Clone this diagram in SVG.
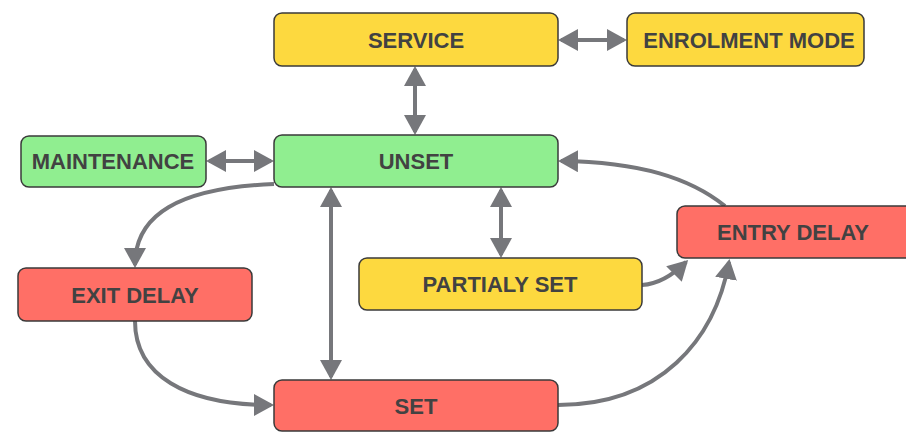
<svg xmlns="http://www.w3.org/2000/svg" width="906" height="432" viewBox="0 0 906 432">
<style>
.n rect{stroke:#3a3a3a;stroke-width:1.5}
.y rect{fill:#fdd93f}
.g rect{fill:#90ee90}
.r rect{fill:#ff6f66}
.n text{font-family:"Liberation Sans",Arial,sans-serif;font-weight:bold;font-size:22px;fill:#424242;text-anchor:middle;dominant-baseline:central}
.c path{fill:none;stroke:#76777b;stroke-width:4}
</style>
<defs>
<marker id="ah" viewBox="0 0 20 22" markerWidth="20" markerHeight="22" refX="17" refY="11" markerUnits="userSpaceOnUse" orient="auto-start-reverse">
<path d="M0,0 L20,11 L0,22 z" fill="#76777b"/>
</marker>
</defs>
<g class="c">
<path d="M561 40 L624 40" marker-start="url(#ah)" marker-end="url(#ah)"/>
<path d="M415 69 L415 132" marker-start="url(#ah)" marker-end="url(#ah)"/>
<path d="M209 161 L271 161" marker-start="url(#ah)" marker-end="url(#ah)"/>
<path d="M331 190 L331 377" marker-start="url(#ah)" marker-end="url(#ah)"/>
<path d="M501 190 L501 255" marker-start="url(#ah)" marker-end="url(#ah)"/>
<path d="M274 184 C178 188 135 215 135 265" marker-end="url(#ah)"/>
<path d="M725 206 C690 178 640 162 561 161" marker-end="url(#ah)"/>
<path d="M642 285 C658 284 672 276 686 262" marker-end="url(#ah)"/>
<path d="M558 405 C660 405 715 340 729 262" marker-end="url(#ah)"/>
<path d="M135 321 C135 375 185 405 271 405" marker-end="url(#ah)"/>
</g>
<g id="service" class="n y"><rect x="274" y="13" width="284" height="53" rx="8"/><text x="416" y="40">SERVICE</text></g>
<g id="enrolment" class="n y"><rect x="627" y="13" width="237" height="53" rx="8"/><text x="749" y="40">ENROLMENT MODE</text></g>
<g id="maintenance" class="n g"><rect x="21" y="136" width="185" height="51" rx="8"/><text x="113" y="161">MAINTENANCE</text></g>
<g id="unset" class="n g"><rect x="274" y="135" width="284" height="52" rx="8"/><text x="416" y="161">UNSET</text></g>
<g id="exitdelay" class="n r"><rect x="18" y="268" width="234" height="53" rx="8"/><text x="135" y="295">EXIT DELAY</text></g>
<g id="partialy" class="n y"><rect x="359" y="258" width="283" height="52" rx="8"/><text x="500" y="284">PARTIALY SET</text></g>
<g id="entrydelay" class="n r"><rect x="677" y="206" width="240" height="52" rx="8"/><text x="793" y="232">ENTRY DELAY</text></g>
<g id="set" class="n r"><rect x="274" y="380" width="284" height="51" rx="8"/><text x="416" y="406">SET</text></g>
</svg>
